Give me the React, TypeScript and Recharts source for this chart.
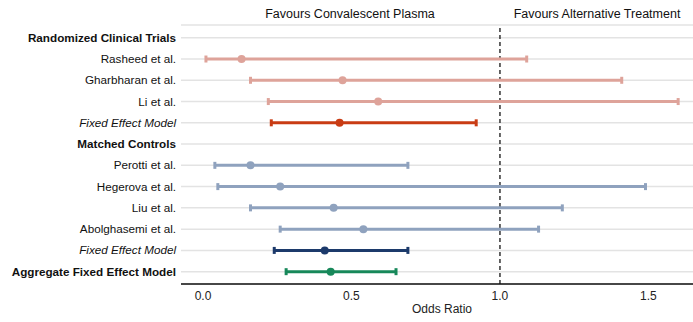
import { CartesianGrid, ErrorBar, ReferenceLine, Scatter, ScatterChart, XAxis, YAxis } from "recharts";

const ROW_LABELS = [
  "Randomized Clinical Trials",
  "Rasheed et al.",
  "Gharbharan et al.",
  "Li et al.",
  "Fixed Effect Model",
  "Matched Controls",
  "Perotti et al.",
  "Hegerova et al.",
  "Liu et al.",
  "Abolghasemi et al.",
  "Fixed Effect Model",
  "Aggregate Fixed Effect Model",
];
const ROW_STYLES = ["bold", "", "", "", "italic", "bold", "", "", "", "", "italic", "bold"];

// odds ratio, lower, upper per row (null for headings)
const ODDS = [null, 0.13, 0.47, 0.59, 0.46, null, 0.16, 0.26, 0.44, 0.54, 0.41, 0.43];
const LOWER = [null, 0.01, 0.16, 0.22, 0.23, null, 0.04, 0.05, 0.16, 0.26, 0.24, 0.28];
const UPPER = [null, 1.09, 1.41, 1.6, 0.92, null, 0.69, 1.49, 1.21, 1.13, 0.69, 0.65];

const GROUPS = [
  { rows: [1, 2, 3], color: "#dea39a" },
  { rows: [4], color: "#c93c14" },
  { rows: [6, 7, 8, 9], color: "#8fa2be" },
  { rows: [10], color: "#1c3a6b" },
  { rows: [11], color: "#17885a" },
];

const X_TICKS = [0, 0.5, 1, 1.5];
const ROW_TICKS = ROW_LABELS.map((_, i) => i);

const groupData = (rows: number[]) =>
  rows.map((r) => ({
    or: ODDS[r] as number,
    row: r,
    err: [(ODDS[r] as number) - (LOWER[r] as number), (UPPER[r] as number) - (ODDS[r] as number)],
  }));

const RowTick = (props: any) => {
  const { y, payload } = props;
  const style = ROW_STYLES[payload.value];
  return (
    <text
      x={176}
      y={y}
      dy={4}
      textAnchor="end"
      fontSize={11.7}
      fill="#111"
      fontWeight={style === "bold" ? 700 : 400}
      fontStyle={style === "italic" ? "italic" : "normal"}
    >
      {ROW_LABELS[payload.value]}
    </text>
  );
};

const Dot = (props: any) => <circle cx={props.cx} cy={props.cy} r={4} fill={props.fill} />;

export default function App() {
  return (
    <div style={{ position: "absolute", left: 0, top: 0, width: 693, height: 322, fontFamily: "'Liberation Sans', Arial, sans-serif" }}>
      <div style={{ position: "absolute", top: 7, left: 350, transform: "translateX(-50%)", fontSize: 12.5, color: "#111", whiteSpace: "nowrap" }}>
        Favours Convalescent Plasma
      </div>
      <div style={{ position: "absolute", top: 7, left: 597, transform: "translateX(-50%)", fontSize: 12.5, color: "#111", whiteSpace: "nowrap" }}>
        Favours Alternative Treatment
      </div>
      <ScatterChart width={693} height={322} margin={{ top: 25, right: 0, bottom: 0, left: 0 }}>
        <CartesianGrid vertical={false} stroke="#e3e3e3" strokeWidth={1.5} />
        <XAxis
          type="number"
          dataKey="or"
          domain={[-0.074, 1.65]}
          ticks={X_TICKS}
          tickFormatter={(v: number) => v.toFixed(1)}
          tickLine={false}
          tickMargin={1}
          height={38}
          axisLine={{ stroke: "#111", strokeWidth: 1.5 }}
          tick={{ fontSize: 12, fill: "#222" }}
          allowDataOverflow
          label={{ value: "Odds Ratio", position: "insideBottom", offset: 9, fontSize: 12, fill: "#222", dx: 5 }}
        />
        <YAxis
          type="number"
          dataKey="row"
          domain={[-0.6, 11.58]}
          reversed
          ticks={ROW_TICKS}
          interval={0}
          width={181}
          axisLine={false}
          tickLine={false}
          tick={<RowTick />}
          allowDataOverflow
        />
        <ReferenceLine x={1} stroke="#333" strokeWidth={1.5} strokeDasharray="4 3" />
        {GROUPS.map((g, i) => (
          <Scatter key={i} data={groupData(g.rows)} fill={g.color} shape={<Dot />} isAnimationActive={false}>
            <ErrorBar dataKey="err" direction="x" width={3.5} stroke={g.color} strokeWidth={3} />
          </Scatter>
        ))}
      </ScatterChart>
    </div>
  );
}
